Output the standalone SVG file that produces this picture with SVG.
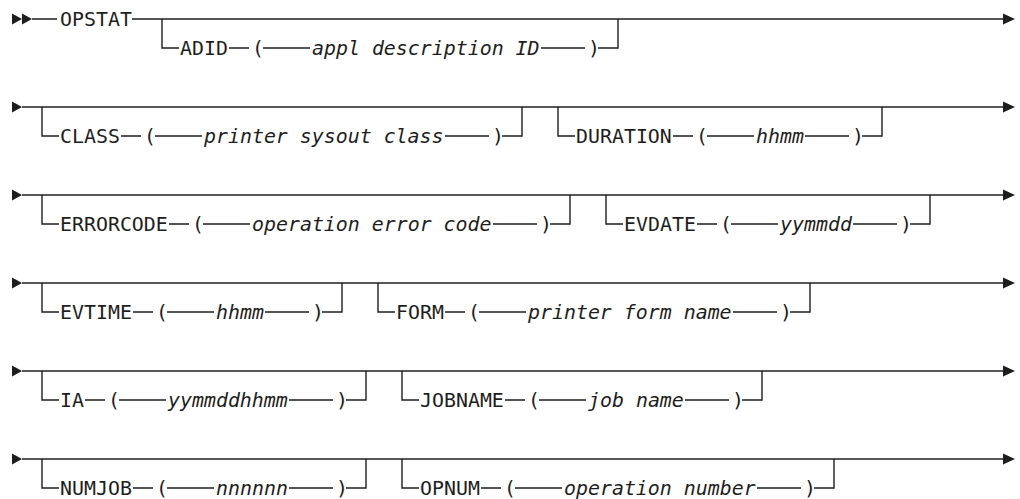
<svg xmlns="http://www.w3.org/2000/svg" width="1020" height="499" viewBox="0 0 1020 499">
<style>
.ln{fill:none;stroke:#1e1e1e;stroke-width:1.4}
.ah{fill:#1e1e1e}
text{font-family:"DejaVu Sans Mono","Liberation Mono",monospace;font-size:19.9px;fill:#1e1e1e}
.v{font-style:italic}
</style>
<rect width="1020" height="499" fill="#fff"/>
<g id="connectors">
<!-- row 1 -->
<polygon class="ah" points="12,13.5 22,19 12,24.5"/>
<polygon class="ah" points="22,13.5 32,19 22,24.5"/>
<path class="ln" d="M32 19 H57 M132 19 H1004"/>
<polygon class="ah" points="1003,13.5 1015,19 1003,24.5"/>
<path class="ln" d="M162 19 V48 H179 M229 48 H249 M263 48 H310 M541 48 H585 M598 48 H618 V19"/>
<!-- row 2 -->
<polygon class="ah" points="12,101.5 22,107 12,112.5"/>
<path class="ln" d="M22 107 H1004"/>
<polygon class="ah" points="1003,101.5 1015,107 1003,112.5"/>
<path class="ln" d="M42 107 V136 H59 M121 136 H141 M155 136 H202 M445 136 H489 M502 136 H522 V107"/>
<path class="ln" d="M558 107 V136 H575 M673 136 H693 M707 136 H754 M805 136 H849 M862 136 H882 V107"/>
<!-- row 3 -->
<polygon class="ah" points="12,189.5 22,195 12,200.5"/>
<path class="ln" d="M22 195 H1004"/>
<polygon class="ah" points="1003,189.5 1015,195 1003,200.5"/>
<path class="ln" d="M42 195 V224 H59 M169 224 H189 M203 224 H250 M493 224 H537 M550 224 H570 V195"/>
<path class="ln" d="M606 195 V224 H623 M697 224 H717 M731 224 H778 M853 224 H897 M910 224 H930 V195"/>
<!-- row 4 -->
<polygon class="ah" points="12,277.5 22,283 12,288.5"/>
<path class="ln" d="M22 283 H1004"/>
<polygon class="ah" points="1003,277.5 1015,283 1003,288.5"/>
<path class="ln" d="M42 283 V312 H59 M133 312 H153 M167 312 H214 M265 312 H309 M322 312 H342 V283"/>
<path class="ln" d="M378 283 V312 H395 M445 312 H465 M479 312 H526 M733 312 H777 M790 312 H810 V283"/>
<!-- row 5 -->
<polygon class="ah" points="12,365.5 22,371 12,376.5"/>
<path class="ln" d="M22 371 H1004"/>
<polygon class="ah" points="1003,365.5 1015,371 1003,376.5"/>
<path class="ln" d="M42 371 V400 H59 M85 400 H105 M119 400 H166 M289 400 H333 M346 400 H366 V371"/>
<path class="ln" d="M402 371 V400 H419 M505 400 H525 M539 400 H586 M685 400 H729 M742 400 H762 V371"/>
<!-- row 6 -->
<polygon class="ah" points="12,453.5 22,459 12,464.5"/>
<path class="ln" d="M22 459 H1004"/>
<polygon class="ah" points="1003,453.5 1015,459 1003,464.5"/>
<path class="ln" d="M42 459 V488 H59 M133 488 H153 M167 488 H214 M289 488 H333 M346 488 H366 V459"/>
<path class="ln" d="M402 459 V488 H419 M481 488 H501 M515 488 H562 M757 488 H801 M814 488 H834 V459"/>
</g>
<g id="opstat"><text x="60" y="26">OPSTAT</text></g>
<g id="adid"><text x="180" y="55">ADID</text><text x="252" y="55">(</text><text class="v" x="312" y="55">appl description ID</text><text x="588" y="55">)</text></g>
<g id="class"><text x="60" y="143">CLASS</text><text x="144" y="143">(</text><text class="v" x="204" y="143">printer sysout class</text><text x="492" y="143">)</text></g>
<g id="duration"><text x="576" y="143">DURATION</text><text x="696" y="143">(</text><text class="v" x="756" y="143">hhmm</text><text x="852" y="143">)</text></g>
<g id="errorcode"><text x="60" y="231">ERRORCODE</text><text x="192" y="231">(</text><text class="v" x="252" y="231">operation error code</text><text x="540" y="231">)</text></g>
<g id="evdate"><text x="624" y="231">EVDATE</text><text x="720" y="231">(</text><text class="v" x="780" y="231">yymmdd</text><text x="900" y="231">)</text></g>
<g id="evtime"><text x="60" y="319">EVTIME</text><text x="156" y="319">(</text><text class="v" x="216" y="319">hhmm</text><text x="312" y="319">)</text></g>
<g id="form"><text x="396" y="319">FORM</text><text x="468" y="319">(</text><text class="v" x="528" y="319">printer form name</text><text x="780" y="319">)</text></g>
<g id="ia"><text x="60" y="407">IA</text><text x="108" y="407">(</text><text class="v" x="168" y="407">yymmddhhmm</text><text x="336" y="407">)</text></g>
<g id="jobname"><text x="420" y="407">JOBNAME</text><text x="528" y="407">(</text><text class="v" x="588" y="407">job name</text><text x="732" y="407">)</text></g>
<g id="numjob"><text x="60" y="495">NUMJOB</text><text x="156" y="495">(</text><text class="v" x="216" y="495">nnnnnn</text><text x="336" y="495">)</text></g>
<g id="opnum"><text x="420" y="495">OPNUM</text><text x="504" y="495">(</text><text class="v" x="564" y="495">operation number</text><text x="804" y="495">)</text></g>
</svg>
